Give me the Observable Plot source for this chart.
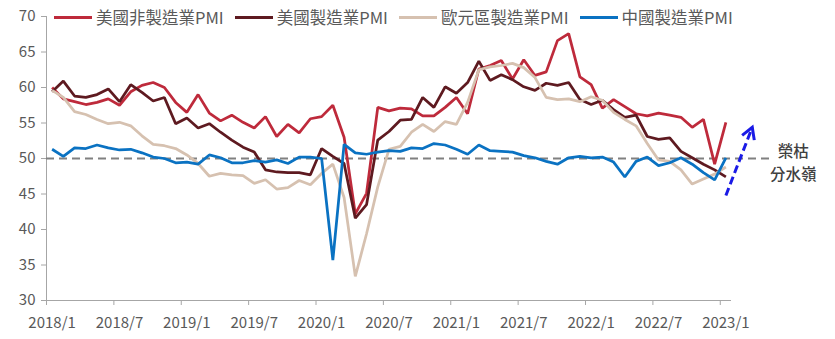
<!DOCTYPE html>
<html>
<head>
<meta charset="utf-8">
<script src="https://cdn.jsdelivr.net/npm/d3@7"></script>
<script src="https://cdn.jsdelivr.net/npm/@observablehq/plot@0.6"></script>
<style>
  html, body { margin: 0; padding: 0; background: #fff; }
  #wrap { position: relative; width: 835px; height: 339px; font-family: "Noto Sans CJK TC", "Noto Sans", sans-serif; }
  #legend { position: absolute; top: 5px; left: 54px; display: flex; align-items: center; gap: 11px; font-size: 16.5px; color: #595959; white-space: nowrap; }
  #legend .item { display: flex; align-items: center; }
  #legend .sw { width: 38px; height: 3px; margin-right: 4px; }
</style>
</head>
<body>
<div id="wrap"><div id="legend"></div></div>
<script>
// ---- data (monthly, 2018/1 .. 2023/1) ----
const seriesNames = ["美國非製造業PMI", "美國製造業PMI", "歐元區製造業PMI", "中國製造業PMI"];
const seriesColors = ["#BE2A3B", "#5E1A20", "#D6C1B0", "#0A72C2"];

const usServices = [
  60.0, 58.4, 58.0, 57.6, 57.9, 58.4, 57.5, 59.4, 60.3, 60.7, 60.0, 57.9,
  56.5, 59.0, 56.4, 55.3, 56.1, 55.1, 54.3, 55.9, 53.1, 54.8, 53.6, 55.6,
  55.9, 57.5, 53.0, 42.2, 45.1, 57.2, 56.7, 57.1, 57.0, 56.0, 56.0, 57.2,
  58.6, 56.3, 62.6, 63.1, 63.8, 61.2, 63.9, 61.7, 62.2, 66.6, 67.6, 61.5,
  60.4, 57.1, 58.3, 57.3, 56.3, 56.0, 56.4, 56.1, 55.8, 54.4, 55.5, 49.2,
  55.1
];
const usManufacturing = [
  59.4, 60.9, 58.8, 58.6, 59.0, 59.8, 58.0, 60.4, 59.3, 58.1, 58.6, 54.9,
  55.7, 54.3, 54.9, 53.7, 52.6, 51.6, 50.9, 48.4, 48.1, 48.0, 48.0, 47.7,
  51.4, 50.3, 49.3, 41.6, 43.5, 52.6, 53.8, 55.4, 55.5, 58.6, 57.2, 60.1,
  59.2, 60.7, 63.7, 61.0, 61.8, 61.1, 60.1, 59.6, 60.6, 60.3, 60.7, 58.3,
  57.6, 58.2, 56.9, 55.8, 56.1, 53.1, 52.7, 52.9, 51.0, 50.1, 49.2, 48.4,
  47.4
];
const euroManufacturing = [
  59.6, 58.6, 56.6, 56.2, 55.5, 54.9, 55.1, 54.6, 53.2, 52.0, 51.8, 51.4,
  50.5, 49.3, 47.5, 47.9, 47.7, 47.6, 46.5, 47.0, 45.7, 45.9, 46.9, 46.3,
  47.9, 49.2, 44.5, 33.4, 39.4, 46.0, 51.3, 51.7, 53.7, 54.8, 53.8, 55.2,
  54.8, 57.9, 62.5, 62.9, 63.1, 63.4, 62.8, 61.4, 58.6, 58.3, 58.4, 58.0,
  58.7, 58.2, 56.5, 55.5, 54.6, 52.1, 49.8, 49.6, 48.4, 46.4, 47.1, 47.8,
  48.8
];
const chinaManufacturing = [
  51.3, 50.3, 51.5, 51.4, 51.9, 51.5, 51.2, 51.3, 50.8, 50.2, 50.0, 49.4,
  49.5, 49.2, 50.5, 50.1, 49.4, 49.4, 49.7, 49.5, 49.8, 49.3, 50.2, 50.2,
  50.0, 35.7, 52.0, 50.8, 50.6, 50.9, 51.1, 51.0, 51.5, 51.4, 52.1, 51.9,
  51.3, 50.6, 51.9, 51.1, 51.0, 50.9, 50.4, 50.1, 49.6, 49.2, 50.1, 50.3,
  50.1, 50.2, 49.5, 47.4, 49.6, 50.2, 49.0, 49.4, 50.1, 49.2, 48.0, 47.0,
  50.1
];
const xTickLabels = ["2018/1", "2018/7", "2019/1", "2019/7", "2020/1", "2020/7",
                     "2021/1", "2021/7", "2022/1", "2022/7", "2023/1"];
const yTicks = [30, 35, 40, 45, 50, 55, 60, 65, 70];
const threshold = 50;
const thresholdLabel = "榮枯\n分水嶺";
// annotation: trend arrow (month index, PMI)
const arrowFrom = [60.5, 44.8];
const arrowTo = [62.85, 54.4];
const thresholdEnd = 64.4;
const labelPos = [66.5, 49.6];

// ---- layout ----
const W = 835, H = 339, mL = 46, mR = 104, mT = 16, mB = 39;
const xDomain = [0, 61], yDomain = [30, 70];

// ---- build table ----
const allSeries = [usServices, usManufacturing, euroManufacturing, chinaManufacturing];
const rows = [];
allSeries.forEach((vals, s) => vals.forEach((v, i) => rows.push({series: seriesNames[s], i: i + 0.5, v})));
const tickIdx = xTickLabels.map((_, k) => k * 6);

// arrow head orientation in screen space
const sx = Plot.scale({x: {domain: xDomain, range: [mL, W - mR]}});
const sy = Plot.scale({y: {domain: yDomain, range: [H - mB, mT]}});
const dxPx = sx.apply(arrowTo[0]) - sx.apply(arrowFrom[0]);
const dyPx = sy.apply(arrowFrom[1]) - sy.apply(arrowTo[1]);
const headRotate = Math.atan2(dxPx, dyPx) * 180 / Math.PI;
const chevron = {
  draw(context, l) {
    const a = 30 * Math.PI / 180;
    context.moveTo(-l * Math.sin(a), l * Math.cos(a));
    context.lineTo(0, 0);
    context.lineTo(l * Math.sin(a), l * Math.cos(a));
  }
};

const axisColor = "#A6A6A6";
const textColor = "#595959";
const arrowColor = "#1A1AE6";

const chart = Plot.plot({
  width: W,
  height: H,
  marginLeft: mL,
  marginRight: mR,
  marginTop: mT,
  marginBottom: mB,
  style: {fontFamily: '"Noto Sans CJK TC", "Noto Sans", sans-serif', fontSize: "15px", color: textColor, background: "transparent"},
  x: {domain: xDomain, axis: null},
  y: {domain: yDomain, axis: null},
  color: {domain: seriesNames, range: seriesColors},
  marks: [
    Plot.ruleY([30], {stroke: axisColor, strokeWidth: 1}),
    Plot.ruleX([0], {stroke: axisColor, strokeWidth: 1}),
    Plot.axisX({ticks: tickIdx, tickSize: 5, tickFormat: () => "", stroke: axisColor}),
    Plot.axisX({ticks: tickIdx.map(d => d + 0.5), tickSize: 0, tickPadding: 17,
                tickFormat: d => xTickLabels[Math.round((d - 0.5) / 6)], fill: textColor, fontSize: 15}),
    Plot.axisY({ticks: yTicks, tickSize: 5, tickPadding: 6, stroke: axisColor, fill: textColor, fontSize: 15}),
    Plot.ruleY([threshold], {x1: 0, x2: thresholdEnd, stroke: "#808080", strokeWidth: 2, strokeDasharray: "8,5"}),
    Plot.line(rows, {x: "i", y: "v", z: "series", stroke: "series", strokeWidth: 2.75, strokeLinejoin: "miter", strokeLinecap: "butt"}),
    Plot.link([{x1: arrowFrom[0], y1: arrowFrom[1], x2: arrowTo[0], y2: arrowTo[1]}],
              {x1: "x1", y1: "y1", x2: "x2", y2: "y2", stroke: arrowColor, strokeWidth: 3, strokeDasharray: "8,4"}),
    Plot.vector([{x: arrowTo[0], y: arrowTo[1]}],
                {x: "x", y: "y", length: 13, rotate: headRotate, anchor: "start", shape: chevron,
                 stroke: arrowColor, strokeWidth: 3, strokeLinejoin: "miter", strokeLinecap: "butt"}),
    Plot.text([thresholdLabel], {x: labelPos[0], y: labelPos[1], text: d => d, lineHeight: 1.47,
               fontSize: 15.5, fill: "#404040", fontWeight: 500})
  ]
});
document.getElementById("wrap").prepend(chart);
chart.style.position = "absolute";
chart.style.left = "0";
chart.style.top = "0";

const legend = document.getElementById("legend");
seriesNames.forEach((n, k) => {
  const it = document.createElement("div");
  it.className = "item";
  const sw = document.createElement("span");
  sw.className = "sw";
  sw.style.background = seriesColors[k];
  const tx = document.createElement("span");
  tx.textContent = n;
  it.append(sw, tx);
  legend.append(it);
});
</script>
</body>
</html>
